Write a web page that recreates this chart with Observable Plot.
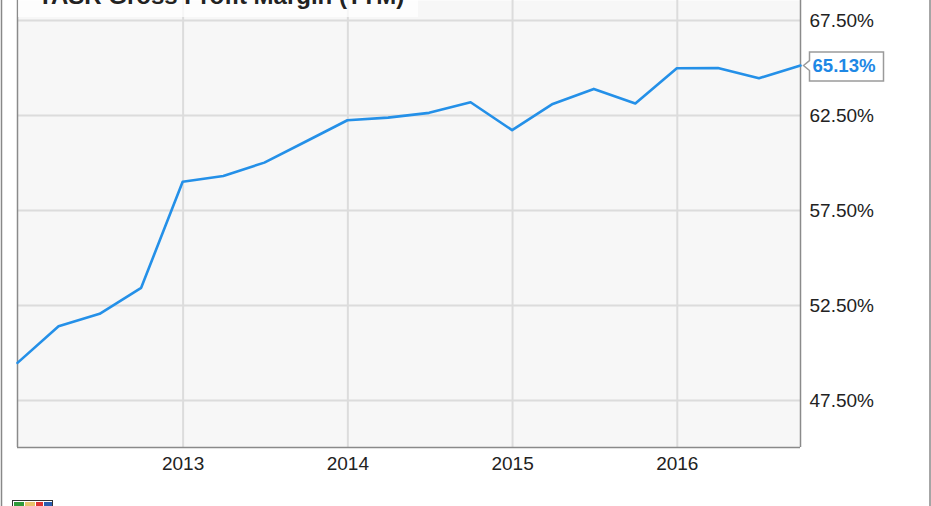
<!DOCTYPE html>
<html><head><meta charset="utf-8">
<script src="https://cdn.jsdelivr.net/npm/d3@7"></script>
<script src="https://cdn.jsdelivr.net/npm/@observablehq/plot@0.6"></script>
<style>body{margin:0;background:#fff;} svg{display:block}</style>
</head><body><div id="chart"></div>
<script>
const title = "TASR Gross Profit Margin (TTM)";
const dates = ["2011-12-31","2012-03-31","2012-06-30","2012-09-30","2012-12-31",
  "2013-03-31","2013-06-30","2013-09-30","2013-12-31",
  "2014-03-31","2014-06-30","2014-09-30","2014-12-31",
  "2015-03-31","2015-06-30","2015-09-30","2015-12-31",
  "2016-03-31","2016-06-30","2016-09-30"];
const margins = [49.48, 51.41, 52.06, 53.43, 59.01,
  59.32, 60.02, 61.13, 62.25,
  62.39, 62.64, 63.20, 61.73,
  63.11, 63.90, 63.13, 64.99,
  65.00, 64.46, 65.13];
const yTicks = [47.5, 52.5, 57.5, 62.5, 67.5];
const xTickLabels = ["2013", "2014", "2015", "2016"];
const lastLabel = "65.13%";

const data = dates.map((d, i) => ({date: new Date(d), value: margins[i]}));
const xTicks = xTickLabels.map(y => new Date(y + "-01-01"));
const last = data[data.length - 1];
const x0 = data[0].date, x1 = last.date;
const yDomain = [45.026, 68.553];

const callout = {
  draw(ctx) {
    ctx.moveTo(3, 0);
    ctx.lineTo(9, -5);
    ctx.lineTo(9, -13.5);
    ctx.lineTo(83, -13.5);
    ctx.lineTo(83, 15.5);
    ctx.lineTo(9, 15.5);
    ctx.lineTo(9, 5);
    ctx.closePath();
  }
};

const chart = Plot.plot({
  width: 931, height: 506,
  marginLeft: 17, marginRight: 131, marginTop: 0, marginBottom: 59,
  style: {fontFamily: "'Liberation Sans', Arial, sans-serif", background: "white", color: "#222"},
  x: {type: "utc", domain: [x0, x1]},
  y: {domain: yDomain},
  marks: [
    Plot.frame({fill: "#f7f7f7"}),
    Plot.gridY(yTicks, {stroke: "#dcdcdc", strokeOpacity: 1, strokeWidth: 2}),
    Plot.gridX(xTicks, {stroke: "#dcdcdc", strokeOpacity: 1, strokeWidth: 2}),
    Plot.ruleY([yDomain[0]], {stroke: "#8a8a8a", strokeWidth: 1.5}),
    Plot.ruleX([x0, x1], {stroke: "#8a8a8a", strokeWidth: 1.5}),
    Plot.axisY(yTicks, {anchor: "right", tickSize: 0, tickPadding: 9, label: null,
      tickFormat: d => d.toFixed(2) + "%", fontSize: 19}),
    Plot.axisX(xTicks, {tickSize: 0, tickPadding: 9, label: null,
      tickFormat: d => d3.utcFormat("%Y")(d), fontSize: 19}),
    Plot.line(data, {x: "date", y: "value", stroke: "#2490e8", strokeWidth: 2.6}),
    Plot.dot([last], {x: "date", y: "value", symbol: callout, fill: "white", stroke: "#9a9a9a", strokeWidth: 1.5}),
    Plot.text([last], {x: "date", y: "value", text: () => lastLabel, dx: 12, dy: 1,
      textAnchor: "start", fill: "#1e88e5", fontWeight: "bold", fontSize: 18.6})
  ]
});

const svg = d3.select(chart);
// title box (cropped at top)
svg.append("rect").attr("x", 18).attr("y", 0).attr("width", 400).attr("height", 17)
  .attr("fill", "#ffffff").attr("fill-opacity", 0.75);
svg.append("text").attr("x", 38).attr("y", 4).attr("font-size", 24).attr("font-weight", "bold")
  .attr("text-anchor", "start")
  .attr("fill", "#222").attr("font-family", "'Liberation Sans', Arial, sans-serif").text(title);
// outer border
svg.append("rect").attr("x", 1.5).attr("y", -5).attr("width", 928.5).attr("height", 520)
  .attr("fill", "none").attr("stroke", "#888").attr("stroke-width", 1.5);
// small logo at bottom-left (cropped)
const lg = svg.append("g");
lg.append("rect").attr("x", 12.5).attr("y", 500.5).attr("width", 40).attr("height", 10).attr("fill", "#fff").attr("stroke", "#333");
lg.append("rect").attr("x", 14).attr("y", 502).attr("width", 10).attr("height", 8).attr("fill", "#2e9a3a");
lg.append("rect").attr("x", 25).attr("y", 502).attr("width", 10).attr("height", 8).attr("fill", "#e8c36a");
lg.append("rect").attr("x", 36).attr("y", 502).attr("width", 7).attr("height", 8).attr("fill", "#d33");
lg.append("rect").attr("x", 44).attr("y", 502).attr("width", 8).attr("height", 8).attr("fill", "#2a5db0");

document.getElementById("chart").appendChild(chart);
</script>
</body></html>
